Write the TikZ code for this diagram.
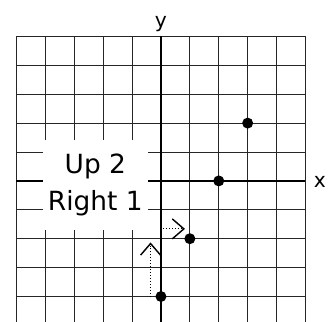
\documentclass[tikz,border=0pt]{standalone}
\usepackage{fontspec}
\setmainfont{DejaVu Sans}
\usetikzlibrary{arrows.meta}

\begin{document}
\begin{tikzpicture}[
    gridline/.style={black!85, line width=0.8pt},
    axisline/.style={black, line width=1.7pt},
    dot/.style={circle, fill=black, inner sep=0pt, minimum size=0.38cm},
    move/.style={dotted, line width=0.9pt, -{Straight Barb[length=0.4cm, width=0.69cm, line width=1.4pt]}},
    axislabel/.style={font=\fontsize{20}{24}\selectfont},
    stepnote/.style={fill=white, align=center, minimum width=3.63cm, minimum height=3.12cm,
                     font=\fontsize{26}{37}\selectfont},
  ]
    % --- 定义坐标和参数 ---
    \def\xmax{5}        % 网格左右边界
    \def\ymax{5}        % 网格上边界
    \def\ymin{-4.88}    % 网格下边界 (被图片边缘截断)

    % 固定图片边界
    \useasboundingbox (-5.57,\ymin) rectangle (5.78,6.26);

    % --- 绘制网格 ---
    \draw[gridline] (-\xmax,\ymin) grid (\xmax,\ymax);

    % --- 绘制坐标轴 ---
    \draw[axisline] (-\xmax,0) -- (\xmax,0) node[axislabel, right, xshift=4pt, yshift=-1pt] (xlab) {x};
    \draw[axisline] (0,\ymin) -- (0,\ymax) node[axislabel, above] (ylab) {y};

    % --- 说明框 ---
    \node[stepnote] (note) at (-2.27,-0.14) {Up 2\\Right 1};

    % --- 直线上的点 ---
    \node[dot] (p0) at (0,-4) {};
    \node[dot] (p1) at (1,-2) {};
    \node[dot] (p2) at (2,0) {};
    \node[dot] (p3) at (3,2) {};

    % --- 移动箭头: 先向上 2, 再向右 1 ---
    \coordinate (upfrom) at (-0.36,-4);
    \coordinate (upto) at (-0.36,-2.13);
    \coordinate (rightfrom) at (0.07,-1.66);
    \coordinate (rightto) at (0.83,-1.66);
    \draw[move] (upfrom) -- (upto);
    \draw[move] (rightfrom) -- (rightto);

\end{tikzpicture}
\end{document}
